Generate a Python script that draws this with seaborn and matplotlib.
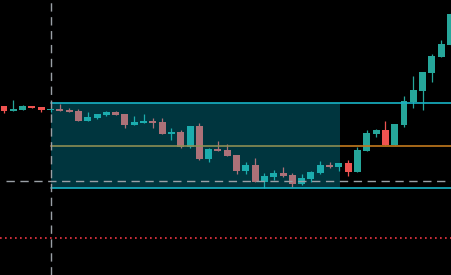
import numpy as np
import matplotlib
matplotlib.use("Agg")
import matplotlib.pyplot as plt
import seaborn as sns
from matplotlib.patches import Rectangle

# ----------------------------------
# Data (OHLC)
# ----------------------------------

opens = [16.9, 16.43, 16.5, 16.9, 16.8, 16.52, 16.6, 16.5, 16.4, 15.4,
         15.7, 16.0, 16.3, 16.1, 15.0, 15.2, 15.4, 15.3, 14.1, 14.3,
         12.8, 14.9, 11.6, 12.6, 12.5, 12.0, 10.4, 11.0, 9.3, 9.8,
         10.2, 10.0, 9.1, 9.6, 10.2, 11.0, 10.8, 11.2, 10.3, 12.4,
         14.1, 14.5, 13.0, 15.0, 17.3, 18.4, 20.2, 21.8, 23.0]
highs = [16.9, 17.5, 17.0, 16.9, 16.8, 16.75, 17.1, 16.7, 16.6, 16.3,
         16.1, 16.4, 16.4, 16.1, 15.9, 16.1, 15.7, 15.7, 14.7, 14.5,
         14.9, 15.2, 12.7, 13.4, 13.1, 12.0, 11.3, 11.7, 10.2, 10.5,
         10.8, 10.2, 10.1, 10.4, 11.4, 11.3, 11.2, 11.5, 12.8, 14.5,
         14.6, 15.4, 15.1, 17.9, 19.9, 20.3, 22.1, 23.5, 26.2]
lows = [16.23, 16.43, 16.5, 16.7, 16.33, 16.3, 16.43, 16.33, 15.4, 15.4,
        15.6, 15.9, 16.0, 14.7, 15.0, 15.2, 14.7, 14.1, 13.5, 12.7,
        12.7, 11.5, 11.3, 12.4, 11.9, 10.1, 10.1, 9.3, 8.7, 9.5,
        9.8, 8.8, 9.0, 9.3, 10.1, 10.7, 10.4, 9.9, 10.3, 12.4,
        13.8, 13.0, 13.0, 14.8, 16.7, 16.5, 19.3, 21.8, 23.0]
closes = [16.43, 16.6, 16.9, 16.7, 16.5, 16.57, 16.43, 16.33, 15.4, 15.8,
          16.1, 16.3, 16.0, 15.0, 15.3, 15.4, 15.2, 14.1, 14.3, 12.8,
          14.9, 11.6, 12.6, 12.4, 11.9, 10.4, 11.0, 9.3, 9.9, 10.2,
          9.9, 9.1, 9.7, 10.3, 11.0, 10.8, 11.2, 10.3, 12.5, 14.2,
          14.5, 13.0, 15.1, 17.4, 18.5, 20.3, 21.9, 23.1, 26.1]

# range box and levels
box_start = 5.05
box_end = 36.12
box_top = 17.2
box_bottom = 8.7
box_mid = 12.9
dashed_level = 9.37
dotted_level = 3.67
cursor_x = 5.05

# ----------------------------------
# Style
# ----------------------------------

sns.set_theme(style="dark", rc={
    "figure.facecolor": "black",
    "axes.facecolor": "black",
})

bull = "#26a69a"
bear = "#ef5350"

fig = plt.figure(figsize=(4.52, 2.75), dpi=100)
ax = fig.add_axes([0, 0, 1, 1])

x = np.arange(len(opens))
o = np.array(opens)
h = np.array(highs)
l = np.array(lows)
c = np.array(closes)
colors = [bull if cc >= oo else bear for oo, cc in zip(o, c)]

# wicks
ax.vlines(x, l, h, colors=colors, linewidth=0.9, zorder=2)

# bodies
body_low = np.minimum(o, c)
body_h = np.maximum(np.abs(c - o), 0.12)
ax.bar(x, body_h, bottom=body_low, width=0.75, color=colors,
       linewidth=0, zorder=3)

# middle level line (under the box)
ax.plot([box_start, 60], [box_mid, box_mid], color="#c47a1e",
        linewidth=1.4, alpha=0.85, zorder=4)

# box overlay
ax.add_patch(Rectangle((box_start, box_bottom), box_end - box_start,
                       box_top - box_bottom, facecolor="#00bfe0",
                       alpha=0.28, edgecolor="none", zorder=5))

# box top / bottom lines extend to the right
for lvl in [box_top, box_bottom]:
    ax.plot([box_start, 60], [lvl, lvl], color="#17b3c6",
            linewidth=1.2, zorder=6)

# crosshair
ax.plot([0.21, 60], [dashed_level, dashed_level], color="#9aa0a6",
        linewidth=1, linestyle=(0, (6, 4)), zorder=7)
ax.axvline(cursor_x, color="#9aa0a6", linewidth=1,
           linestyle=(0, (6, 4)), zorder=7)

# dotted level
ax.axhline(dotted_level, color="#f23645", linewidth=1.2,
           linestyle=(0, (1, 2)), zorder=7)

ax.set_xlim(-0.43, 48.16)
ax.set_ylim(0, 27.5)
ax.set_xticks([])
ax.set_yticks([])
for s in ax.spines.values():
    s.set_visible(False)

plt.savefig("out.png", dpi=100, facecolor="black")
plt.close()
